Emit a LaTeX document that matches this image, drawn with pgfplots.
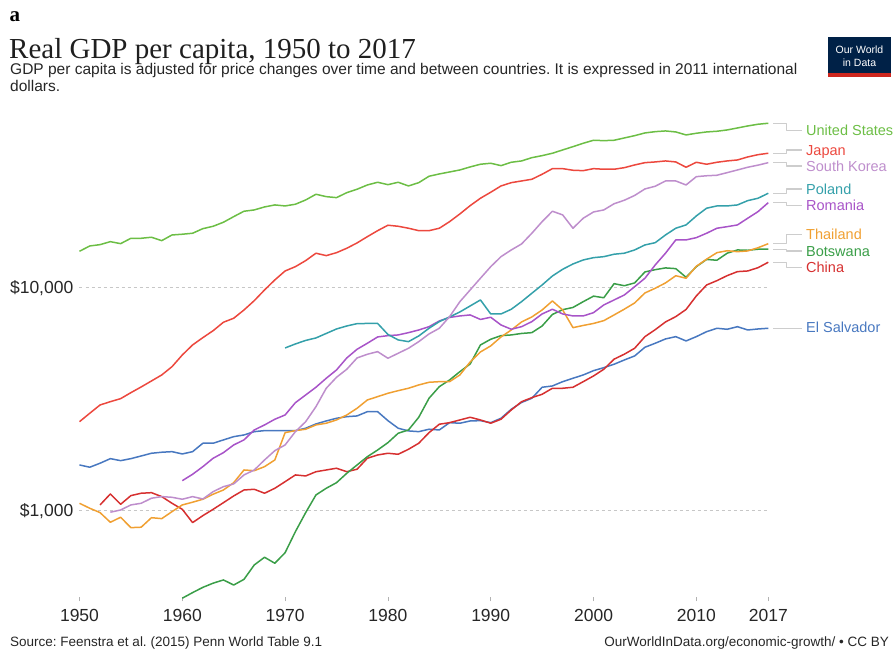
\documentclass[border=0pt]{standalone}
\usepackage{pgfplots}
\pgfplotsset{compat=1.18}
\usepackage{fontspec}
\setmainfont{Liberation Sans}
\newfontfamily\seriffont{Liberation Serif}
\frenchspacing
\definecolor{cUS}{RGB}{108,190,69}
\definecolor{cJP}{RGB}{236,72,62}
\definecolor{cKR}{RGB}{190,142,204}
\definecolor{cPL}{RGB}{52,160,170}
\definecolor{cRO}{RGB}{168,84,200}
\definecolor{cTH}{RGB}{240,160,50}
\definecolor{cBW}{RGB}{58,158,72}
\definecolor{cCN}{RGB}{214,48,48}
\definecolor{cSV}{RGB}{72,120,192}
\definecolor{cNavy}{RGB}{0,33,71}
\definecolor{cLogoRed}{RGB}{206,38,30}
\definecolor{cConn}{RGB}{205,205,205}
\begin{document}
\begin{tikzpicture}
\begin{axis}[
  at={(0,0)}, anchor=south west,
  scale only axis, width=688.8bp, height=479bp,
  xmin=1950, xmax=2017,
  ymode=log, ymin=400, ymax=56240,
  axis line style={draw=none},
  xtick={1950,1960,1970,1980,1990,2000,2010,2017},
  xticklabels={1950,1960,1970,1980,1990,2000,2010,2017},
  ytick={1000,10000},
  yticklabels={{\$1,000},{\$10,000}},
  xtick pos=bottom,
  ytick style={draw=none},
  xtick style={draw=black!30, line width=0.8bp},
  major tick length=4bp,
  tick align=center,
  ymajorgrids,
  grid style={black!22, line width=0.8bp, dash pattern=on 3bp off 3bp},
  ticklabel style={font=\fontsize{17.5bp}{21bp}\selectfont, text=black!85},
  /pgf/number format/assume math mode=true,
  x tick label style={anchor=north, inner sep=0pt, yshift=-8bp},
  y tick label style={anchor=east, inner sep=0pt, xshift=-4bp},
  every axis plot/.append style={line width=1.5bp, line join=round, no markers},
  clip=false,
]
% El Salvador
\addplot[cSV] coordinates {
(1950,1603)(1951,1566)(1952,1632)(1953,1711)(1954,1676)(1955,1711)(1956,1759)(1957,1809)(1958,1828)(1959,1839)
(1960,1796)(1961,1839)(1962,2006)(1963,2006)(1964,2076)(1965,2147)(1966,2185)(1967,2261)(1968,2285)(1969,2285)
(1970,2285)(1971,2285)(1972,2342)(1973,2448)(1974,2525)(1975,2596)(1976,2639)(1977,2659)(1978,2779)(1979,2779)
(1980,2533)(1981,2342)(1982,2278)(1983,2261)(1984,2318)(1985,2301)(1986,2481)(1987,2466)(1988,2525)(1989,2533)
(1990,2481)(1991,2596)(1992,2849)(1993,3056)(1994,3192)(1995,3576)(1996,3624)(1997,3789)(1998,3924)(1999,4060)
(2000,4244)(2001,4378)(2002,4534)(2003,4740)(2004,4940)(2005,5404)(2006,5632)(2007,5888)(2008,6030)(2009,5768)
(2010,6030)(2011,6348)(2012,6575)(2013,6507)(2014,6684)(2015,6460)(2016,6527)(2017,6575)};
% China
\addplot[cCN] coordinates {
(1952,1061)(1953,1188)(1954,1068)(1955,1168)(1956,1197)(1957,1204)(1958,1156)(1959,1079)
(1960,1014)(1961,884)(1962,950)(1963,1014)(1964,1086)(1965,1164)(1966,1238)(1967,1247)(1968,1197)(1969,1260)
(1970,1349)(1971,1446)(1972,1431)(1973,1495)(1974,1522)(1975,1550)(1976,1495)(1977,1534)(1978,1718)(1979,1777)
(1980,1809)(1981,1790)(1982,1885)(1983,2006)(1984,2238)(1985,2441)(1986,2481)(1987,2551)(1988,2623)(1989,2551)
(1990,2466)(1991,2570)(1992,2828)(1993,3081)(1994,3212)(1995,3326)(1996,3539)(1997,3539)(1998,3576)(1999,3789)
(2000,4018)(2001,4306)(2002,4779)(2003,5032)(2004,5348)(2005,6030)(2006,6480)(2007,7019)(2008,7414)(2009,7984)
(2010,9179)(2011,10280)(2012,10750)(2013,11320)(2014,11800)(2015,11880)(2016,12290)(2017,13000)};
% Botswana
\addplot[cBW] coordinates {
(1960,405)(1961,429)(1962,453)(1963,473)(1964,489)(1965,464)(1966,492)(1967,571)(1968,618)(1969,581)
(1970,648)(1971,805)(1972,980)(1973,1176)(1974,1260)(1975,1335)(1976,1471)(1977,1603)(1978,1746)(1979,1871)
(1980,2018)(1981,2224)(1982,2301)(1983,2623)(1984,3192)(1985,3598)(1986,3856)(1987,4200)(1988,4548)(1989,5534)
(1990,5870)(1991,6093)(1992,6137)(1993,6232)(1994,6284)(1995,6733)(1996,7584)(1997,7967)(1998,8150)(1999,8654)
(2000,9160)(2001,9010)(2002,10420)(2003,10200)(2004,10500)(2005,11760)(2006,12040)(2007,12260)(2008,12170)(2009,11130)
(2010,12420)(2011,13380)(2012,13270)(2013,14270)(2014,14760)(2015,14710)(2016,14870)(2017,14870)};
% Thailand
\addplot[cTH] coordinates {
(1950,1079)(1951,1025)(1952,980)(1953,887)(1954,934)(1955,839)(1956,843)(1957,930)(1958,921)(1959,990)
(1960,1061)(1961,1091)(1962,1125)(1963,1185)(1964,1238)(1965,1335)(1966,1522)(1967,1511)(1968,1575)(1969,1688)
(1970,2238)(1971,2285)(1972,2318)(1973,2423)(1974,2466)(1975,2551)(1976,2686)(1977,2878)(1978,3136)(1979,3245)
(1980,3361)(1981,3452)(1982,3539)(1983,3662)(1984,3765)(1985,3789)(1986,3789)(1987,4060)(1988,4643)(1989,5148)
(1990,5480)(1991,6011)(1992,6460)(1993,7019)(1994,7391)(1995,7943)(1996,8717)(1997,7943)(1998,6616)(1999,6768)
(2000,6910)(2001,7114)(2002,7545)(2003,8009)(2004,8539)(2005,9467)(2006,9938)(2007,10500)(2008,11310)(2009,11020)
(2010,12470)(2011,13420)(2012,14350)(2013,14640)(2014,14500)(2015,14610)(2016,15100)(2017,15750)};
% Romania
\addplot[cRO] coordinates {
(1960,1363)(1961,1456)(1962,1575)(1963,1718)(1964,1820)(1965,1971)(1966,2076)(1967,2301)(1968,2423)(1969,2570)
(1970,2686)(1971,3050)(1972,3302)(1973,3576)(1974,3924)(1975,4275)(1976,4839)(1977,5293)(1978,5632)(1979,6011)
(1980,6093)(1981,6137)(1982,6284)(1983,6460)(1984,6684)(1985,7092)(1986,7353)(1987,7468)(1988,7545)(1989,7202)
(1990,7368)(1991,6803)(1992,6507)(1993,6684)(1994,7041)(1995,7623)(1996,8000)(1997,7623)(1998,7468)(1999,7468)
(2000,7726)(2001,8364)(2002,8807)(2003,9274)(2004,10100)(2005,11020)(2006,12640)(2007,14270)(2008,16370)(2009,16370)
(2010,16760)(2011,17540)(2012,18470)(2013,18770)(2014,19110)(2015,20480)(2016,21920)(2017,24060)};
% Poland
\addplot[cPL] coordinates {
(1970,5365)(1971,5592)(1972,5799)(1973,5950)(1974,6232)(1975,6527)(1976,6733)(1977,6896)(1978,6910)(1979,6910)
(1980,6168)(1981,5829)(1982,5727)(1983,6074)(1984,6575)(1985,7041)(1986,7391)(1987,7782)(1988,8278)(1989,8807)
(1990,7623)(1991,7623)(1992,8000)(1993,8654)(1994,9438)(1995,10280)(1996,11280)(1997,12090)(1998,12770)(1999,13310)
(2000,13630)(2001,13770)(2002,14120)(2003,14270)(2004,14760)(2005,15540)(2006,15910)(2007,17230)(2008,18470)(2009,19110)
(2010,20970)(2011,22710)(2012,23250)(2013,23250)(2014,23490)(2015,24560)(2016,25170)(2017,26500)};
% South Korea
\addplot[cKR] coordinates {
(1953,984)(1954,1007)(1955,1061)(1956,1079)(1957,1137)(1958,1156)(1959,1148)
(1960,1125)(1961,1156)(1962,1128)(1963,1217)(1964,1281)(1965,1318)(1966,1446)(1967,1522)(1968,1688)(1969,1858)
(1970,1971)(1971,2261)(1972,2506)(1973,2926)(1974,3539)(1975,3964)(1976,4306)(1977,4839)(1978,5027)(1979,5164)
(1980,4824)(1981,5079)(1982,5348)(1983,5727)(1984,6200)(1985,6575)(1986,7414)(1987,8654)(1988,9766)(1989,11020)
(1990,12420)(1991,13770)(1992,14760)(1993,15700)(1994,17540)(1995,19770)(1996,22010)(1997,21190)(1998,18470)(1999,20480)
(2000,21850)(2001,22310)(2002,23780)(2003,24660)(2004,25910)(2005,27710)(2006,28490)(2007,30090)(2008,30090)(2009,28870)
(2010,31460)(2011,31750)(2012,31920)(2013,32790)(2014,33710)(2015,34670)(2016,35430)(2017,36350)};
% Japan
\addplot[cJP] coordinates {
(1950,2506)(1951,2734)(1952,2978)(1953,3081)(1954,3179)(1955,3382)(1956,3587)(1957,3816)(1958,4060)(1959,4423)
(1960,4991)(1961,5534)(1962,5969)(1963,6413)(1964,6997)(1965,7292)(1966,7943)(1967,8744)(1968,9766)(1969,10830)
(1970,11880)(1971,12420)(1972,13220)(1973,14270)(1974,13920)(1975,14350)(1976,15020)(1977,15870)(1978,16930)(1979,18010)
(1980,19050)(1981,18850)(1982,18470)(1983,18010)(1984,18010)(1985,18470)(1986,19770)(1987,21410)(1988,23320)(1989,25170)
(1990,26780)(1991,28580)(1992,29570)(1993,30090)(1994,30620)(1995,32250)(1996,34170)(1997,34170)(1998,33610)(1999,33470)
(2000,34170)(2001,33960)(2002,33960)(2003,34520)(2004,35500)(2005,36350)(2006,36620)(2007,37000)(2008,36620)(2009,34670)
(2010,36500)(2011,35760)(2012,36500)(2013,37000)(2014,37380)(2015,38560)(2016,39480)(2017,40060)};
% United States
\addplot[cUS] coordinates {
(1950,14560)(1951,15380)(1952,15590)(1953,16080)(1954,15750)(1955,16650)(1956,16650)(1957,16830)(1958,16250)(1959,17230)
(1960,17360)(1961,17540)(1962,18390)(1963,18850)(1964,19650)(1965,20820)(1966,22010)(1967,22310)(1968,23010)(1969,23490)
(1970,23250)(1971,23660)(1972,24730)(1973,26230)(1974,25590)(1975,25330)(1976,26670)(1977,27620)(1978,28870)(1979,29690)
(1980,28960)(1981,29690)(1982,28580)(1983,29570)(1984,31590)(1985,32350)(1986,33020)(1987,33710)(1988,34780)(1989,35760)
(1990,36130)(1991,35250)(1992,36500)(1993,37000)(1994,38280)(1995,39080)(1996,40060)(1997,41450)(1998,42880)(1999,44410)
(2000,45810)(2001,45620)(2002,45810)(2003,46910)(2004,48040)(2005,49400)(2006,50060)(2007,50430)(2008,49910)(2009,48390)
(2010,49240)(2011,49910)(2012,50270)(2013,50950)(2014,52010)(2015,53100)(2016,54040)(2017,54600)};
\end{axis}
\begin{scope}[x=1bp, y=-1bp, shift={(-79.5bp,599.4bp)}]
  % header
  \node[anchor=base west, inner sep=0pt, font=\seriffont\bfseries\fontsize{21bp}{24bp}\selectfont] at (9.5,21.7) {a};
  \node[anchor=base west, inner sep=0pt, text=black!88, font=\seriffont\fontsize{29bp}{34bp}\selectfont] at (9,58.3) {Real GDP per capita, 1950 to 2017};
  \node[anchor=base west, inner sep=0pt, text=black!85, font=\fontsize{15.5bp}{18bp}\selectfont] at (10,75) {GDP per capita is adjusted for price changes over time and between countries. It is expressed in 2011 international};
  \node[anchor=base west, inner sep=0pt, text=black!85, font=\fontsize{15.5bp}{18bp}\selectfont] at (10,91.5) {dollars.};
  % logo
  \fill[cNavy] (828,37) rectangle (891,77);
  \fill[cLogoRed] (828,73.5) rectangle (891,77);
  \node[text=white, inner sep=0pt, font=\fontsize{10.5bp}{12bp}\selectfont] at (859.5,50) {Our World};
  \node[text=white, inner sep=0pt, font=\fontsize{10.5bp}{12bp}\selectfont] at (859.5,63) {in Data};
  % footer
  \node[anchor=base west, inner sep=0pt, text=black!85, font=\fontsize{13.5bp}{16bp}\selectfont] at (10,647) {Source: Feenstra et al. (2015) Penn World Table 9.1};
  \node[anchor=base east, inner sep=0pt, text=black!85, font=\fontsize{13.5bp}{16bp}\selectfont] at (889,647) {OurWorldInData.org/economic-growth/ • CC BY};
  % connectors
  \begin{scope}[draw=cConn, line width=1.2bp, line join=round]
    \draw (773.3,123.3) -- (786.7,123.3) -- (786.7,130.7) -- (801.7,130.7);
    \draw (773.3,153.3) -- (786.7,153.3) -- (786.7,150) -- (801.7,150);
    \draw (773.3,162.7) -- (786.7,162.7) -- (786.7,166) -- (801.7,166);
    \draw (773.3,193.3) -- (786.7,193.3) -- (786.7,189) -- (801.7,189);
    \draw (773.3,202.7) -- (786.7,202.7) -- (786.7,205.7) -- (801.7,205.7);
    \draw (773.3,243.7) -- (786.7,243.7) -- (786.7,234.3) -- (801.7,234.3);
    \draw (773.3,249.3) -- (786.7,249.3) -- (786.7,251) -- (801.7,251);
    \draw (773.3,262.3) -- (786.7,262.3) -- (786.7,267.7) -- (801.7,267.7);
    \draw (773.3,328.3) -- (801.7,328.3);
  \end{scope}
  % labels
  \begin{scope}[every node/.style={anchor=base west, inner sep=0pt, font=\fontsize{14.5bp}{17bp}\selectfont}]
    \node[text=cUS] at (806,135.9) {United States};
    \node[text=cJP] at (806,155.2) {Japan};
    \node[text=cKR] at (806,171.2) {South Korea};
    \node[text=cPL] at (806,194.2) {Poland};
    \node[text=cRO] at (806,210.9) {Romania};
    \node[text=cTH] at (806,239.5) {Thailand};
    \node[text=cBW] at (806,256.2) {Botswana};
    \node[text=cCN] at (806,272.9) {China};
    \node[text=cSV] at (806,332.5) {El Salvador};
  \end{scope}
  \pgfresetboundingbox
  \path[use as bounding box] (0,0) rectangle (894,653);
\end{scope}
\end{tikzpicture}
\end{document}
